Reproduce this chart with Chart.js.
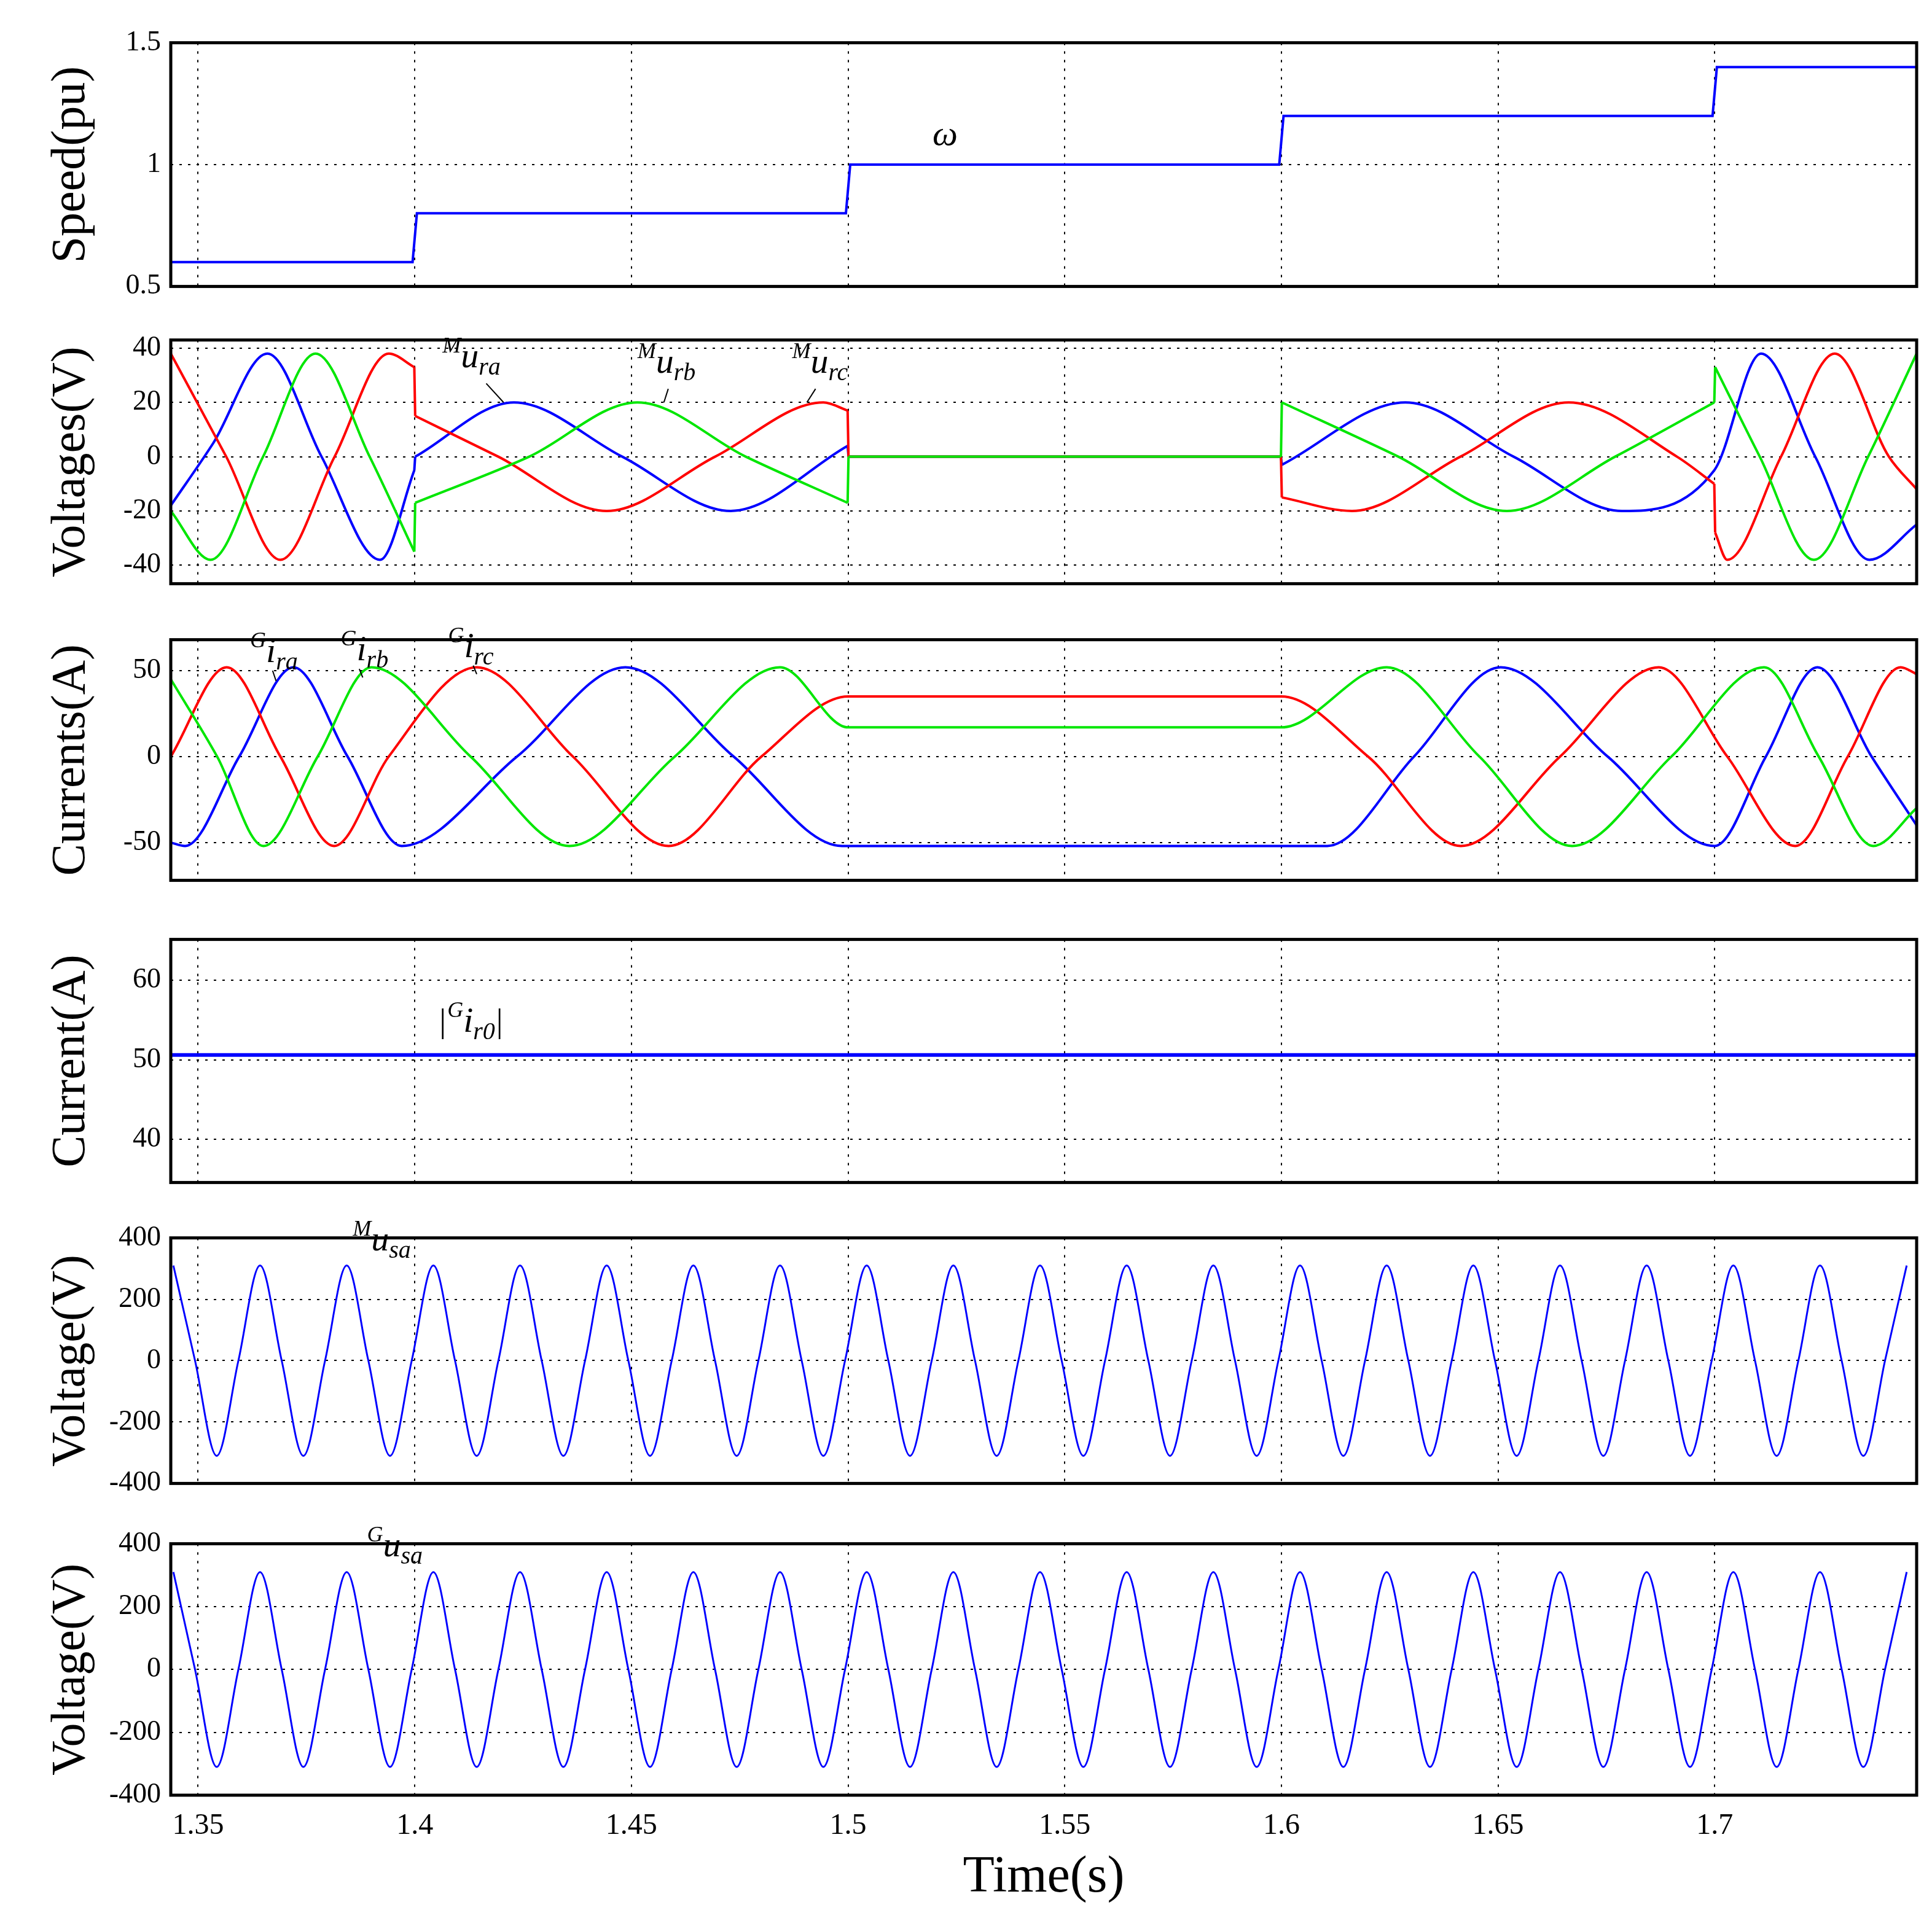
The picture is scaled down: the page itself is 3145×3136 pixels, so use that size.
<!DOCTYPE html>
<html><head><meta charset="utf-8">
<script src="https://cdn.jsdelivr.net/npm/chart.js@4/dist/chart.umd.min.js"></script>
<style>body{margin:0;background:#fff;width:3145px;height:3136px;position:relative;overflow:hidden}
.p{position:absolute;left:0;width:3145px}</style></head><body>
<script>
// ---- data ----  (null marks a switching instant where the waveform jumps)
const xTicks=[1.35,1.4,1.45,1.5,1.55,1.6,1.65,1.7];
const speed=[[1.3437,0.6],[1.3995,0.6],[1.4005,0.8],[1.4995,0.8],[1.5005,1.0],[1.5995,1.0],[1.6005,1.2],[1.6995,1.2],[1.7005,1.4],[1.7466,1.4]];
const urA=[[1.3437,-18],[1.3535,5],[1.366,38],[1.3785,0],[1.392,-38],[1.3999,-5],[1.4,null],[1.4001,0],[1.4229,20],[1.4479,0],[1.4729,-20],[1.4999,4],[1.5,null],[1.5001,0],[1.5999,0],[1.6,null],[1.6001,-3],[1.6286,20],[1.6536,0],[1.6786,-20],[1.6999,-5],[1.7107,38],[1.7232,0],[1.7357,-38],[1.7466,-25]];
const urB=[[1.3437,-20],[1.3529,-38],[1.365,0],[1.3771,38],[1.3896,0],[1.3999,-35],[1.4,null],[1.4001,-17],[1.4264,0],[1.4514,20],[1.4764,0],[1.4999,-17],[1.5,null],[1.5001,0],[1.5999,0],[1.6,null],[1.6001,20],[1.627,0],[1.652,-20],[1.677,0],[1.6999,20],[1.7,null],[1.7001,33],[1.7104,0],[1.7229,-38],[1.7354,0],[1.7466,38]];
const urC=[[1.3437,38],[1.3565,0],[1.369,-38],[1.3815,0],[1.394,38],[1.3999,33],[1.4,null],[1.4001,15],[1.4193,0],[1.4443,-20],[1.4693,0],[1.4943,20],[1.4999,17],[1.5,null],[1.5001,0],[1.5999,0],[1.6,null],[1.6001,-15],[1.6163,-20],[1.6413,0],[1.6663,20],[1.6913,0],[1.6999,-10],[1.7,null],[1.7001,-28],[1.7029,-38],[1.7153,0],[1.7277,38],[1.7402,0],[1.7466,-12]];
const irA=[[1.3437,-50],[1.347,-52],[1.3595,0],[1.372,52],[1.3845,0],[1.397,-52],[1.4236,0],[1.4486,52],[1.4736,0],[1.4986,-52],[1.6106,-52],[1.6306,0],[1.6506,52],[1.6753,0],[1.70,-52],[1.7118,0],[1.7237,52],[1.7362,0],[1.7466,-40]];
const irB=[[1.3437,45],[1.3544,0],[1.3651,-52],[1.3776,0],[1.39,52],[1.4129,0],[1.4357,-52],[1.46,0],[1.4843,52],[1.5,17],[1.6,17],[1.6243,52],[1.6457,0],[1.6671,-52],[1.69,0],[1.7114,52],[1.724,0],[1.7366,-52],[1.7466,-30]];
const irC=[[1.3437,0],[1.3566,52],[1.369,0],[1.3814,-52],[1.394,0],[1.4143,52],[1.4365,0],[1.4586,-52],[1.48,0],[1.5,35],[1.6,35],[1.62,0],[1.6414,-52],[1.6643,0],[1.6871,52],[1.7029,0],[1.7186,-52],[1.7307,0],[1.7429,52],[1.7466,48]];
const ifr0=[[1.3437,50.6],[1.7466,50.6]];
const sT=[1.3443,1.3493,1.3543,1.3593,1.3643,1.3693,1.3743,1.3793,1.3843,1.3893,1.3943,1.3993,1.4043,1.4093,1.4143,1.4193,1.4243,1.4293,1.4343,1.4393,1.4443,1.4493,1.4543,1.4593,1.4643,1.4693,1.4743,1.4793,1.4843,1.4893,1.4943,1.4993,1.5043,1.5093,1.5143,1.5193,1.5243,1.5293,1.5343,1.5393,1.5443,1.5493,1.5543,1.5593,1.5643,1.5693,1.5743,1.5793,1.5843,1.5893,1.5943,1.5993,1.6043,1.6093,1.6143,1.6193,1.6243,1.6293,1.6343,1.6393,1.6443,1.6493,1.6543,1.6593,1.6643,1.6693,1.6743,1.6793,1.6843,1.6893,1.6943,1.6993,1.7043,1.7093,1.7143,1.7193,1.7243,1.7293,1.7343,1.7393,1.7443];
const usaM=[310,0,-310,0,310,0,-310,0,310,0,-310,0,310,0,-310,0,310,0,-310,0,310,0,-310,0,310,0,-310,0,310,0,-310,0,310,0,-310,0,310,0,-310,0,310,0,-310,0,310,0,-310,0,310,0,-310,0,310,0,-310,0,310,0,-310,0,310,0,-310,0,310,0,-310,0,310,0,-310,0,310,0,-310,0,310,0,-310,0,310];
const usaG=[310,0,-310,0,310,0,-310,0,310,0,-310,0,310,0,-310,0,310,0,-310,0,310,0,-310,0,310,0,-310,0,310,0,-310,0,310,0,-310,0,310,0,-310,0,310,0,-310,0,310,0,-310,0,310,0,-310,0,310,0,-310,0,310,0,-310,0,310,0,-310,0,310,0,-310,0,310,0,-310,0,310,0,-310,0,310,0,-310,0,310];

const XMIN=1.3437,XMAX=1.7466;
const BLUE='#0000ff',RED='#ff0000',GREEN='#00e600';
const pts=a=>a.map(p=>({x:p[0],y:p[1]}));
const ptsT=v=>v.map((y,i)=>({x:sT[i],y}));
function jumps(a){const o=[];for(let i=1;i<a.length-1;i++){if(a[i][1]===null){o.push({x:a[i-1][0],y:a[i-1][1]},{x:a[i+1][0],y:a[i+1][1]},{x:a[i][0],y:null});}}return o;}

const frame={id:'frame',afterDraw(c){const a=c.chartArea,x=c.ctx;x.save();x.strokeStyle='#000';x.lineWidth=5;x.strokeRect(a.left,a.top,a.right-a.left,a.bottom-a.top);
 const labs=c.options.plugins.frame.labels||[];
 labs.forEach(L=>{const px=c.scales.x.getPixelForValue(L.t),py=c.scales.y.getPixelForValue(L.v);
  if(L.line){x.strokeStyle='#000';x.lineWidth=2;x.beginPath();x.moveTo(c.scales.x.getPixelForValue(L.line[0]),c.scales.y.getPixelForValue(L.line[1]));x.lineTo(c.scales.x.getPixelForValue(L.line[2]),c.scales.y.getPixelForValue(L.line[3]));x.stroke();}
  x.fillStyle='#000';x.textBaseline='alphabetic';let cx=px;
  if(L.pre){x.font='54px "Liberation Serif"';x.fillText(L.pre,cx,py);cx+=x.measureText(L.pre).width+2;}
  if(L.sup){x.font='italic 36px "Liberation Serif"';x.fillText(L.sup,cx,py-24);cx+=x.measureText(L.sup).width;}
  x.font='italic 58px "Liberation Serif"';x.fillText(L.main,cx,py);cx+=x.measureText(L.main).width;
  if(L.sub){x.font='italic 40px "Liberation Serif"';x.fillText(L.sub,cx,py+12);cx+=x.measureText(L.sub).width;}
  if(L.post){x.font='54px "Liberation Serif"';x.fillText(L.post,cx+2,py);}
 });x.restore();}};

function panel(top,h,title,ymin,ymax,yt,datasets,labels,last){
 const pad=30;const d=document.createElement('div');d.className='p';
 const ht=last?(3136-(top-pad)):h+2*pad;
 d.style.top=(top-pad)+'px';d.style.height=ht+'px';const cv=document.createElement('canvas');d.appendChild(cv);document.body.appendChild(d);
 new Chart(cv,{type:'line',data:{datasets},plugins:[frame],options:{devicePixelRatio:1,responsive:true,maintainAspectRatio:false,animation:false,
  layout:{padding:{left:0,right:25,top:pad,bottom:last?0:pad}},
  elements:{point:{radius:0},line:{borderWidth:4,cubicInterpolationMode:'monotone'}},
  plugins:{legend:{display:false},tooltip:{enabled:false},frame:{labels}},
  scales:{
   x:{type:'linear',min:XMIN,max:XMAX,afterBuildTicks:s=>{s.ticks=xTicks.map(v=>({value:v}));},
    afterFit:s=>{s.height=last?213:0;},
    grid:{color:'#000',lineWidth:2,drawTicks:false},border:{display:false,dash:[4,10]},
    ticks:{display:!!last,padding:22,color:'#000',font:{family:'Liberation Serif',size:48},callback:v=>String(v)},
    title:{display:!!last,text:'Time(s)',color:'#000',font:{family:'Liberation Serif',size:84},padding:{top:0,bottom:28}}},
   y:{min:ymin,max:ymax,afterBuildTicks:s=>{s.ticks=yt.map(v=>({value:v}));},afterFit:s=>{s.width=278;},
    grid:{color:'#000',lineWidth:2,drawTicks:false},border:{display:false,dash:[4,10]},
    ticks:{padding:16,color:'#000',font:{family:'Liberation Serif',size:46},callback:v=>String(v)},
    title:{display:true,text:title,color:'#000',font:{family:'Liberation Serif',size:78},padding:{top:70,bottom:0}}}}}});
}
const ds=(data,color)=>({data,borderColor:color,fill:false,spanGaps:false});
const jds=(a,color)=>({data:jumps(a),borderColor:color,fill:false,spanGaps:false,tension:0,cubicInterpolationMode:'default'});
panel(56,424,'Speed(pu)',0.5,1.5,[0.5,1,1.5],[{...ds(pts(speed),BLUE),cubicInterpolationMode:'default',tension:0}],
 [{t:1.5195,v:1.08,main:'ω'}]);
panel(540,424,'Voltages(V)',-46.8,43,[-40,-20,0,20,40],[ds(pts(urB),GREEN),jds(urB,GREEN),ds(pts(urC),RED),jds(urC,RED),ds(pts(urA),BLUE),jds(urA,BLUE)],
 [{t:1.4064,v:33,sup:'M',main:'u',sub:'ra',line:[1.4165,27,1.4205,20]},{t:1.4514,v:31,sup:'M',main:'u',sub:'rb',line:[1.4585,25,1.4575,20]},{t:1.4871,v:31,sup:'M',main:'u',sub:'rc',line:[1.4925,25,1.4905,20]}]);
panel(1028,419,'Currents(A)',-72,68,[-50,0,50],[ds(pts(irB),GREEN),ds(pts(irC),RED),ds(pts(irA),BLUE)],
 [{t:1.3620,v:55,sup:'G',main:'i',sub:'ra',line:[1.3672,50,1.368,44]},{t:1.3829,v:56,sup:'G',main:'i',sub:'rb',line:[1.3872,51,1.388,46]},{t:1.4077,v:58,sup:'G',main:'i',sub:'rc',line:[1.4135,53,1.4143,48]}]);
panel(1516,423,'Current(A)',34.6,65.1,[40,50,60],[{...ds(pts(ifr0),BLUE),borderWidth:6}],
 [{t:1.4057,v:53.5,pre:'|',sup:'G',main:'i',sub:'r0',post:'|'}]);
panel(2002,427,'Voltage(V)',-400,400,[-400,-200,0,200,400],[{...ds(ptsT(usaM),BLUE),borderWidth:3}],
 [{t:1.3857,v:360,sup:'M',main:'u',sub:'sa'}]);
panel(2500,423,'Voltage(V)',-400,400,[-400,-200,0,200,400],[{...ds(ptsT(usaG),BLUE),borderWidth:3}],
 [{t:1.389,v:360,sup:'G',main:'u',sub:'sa'}],true);
</script></body></html>
